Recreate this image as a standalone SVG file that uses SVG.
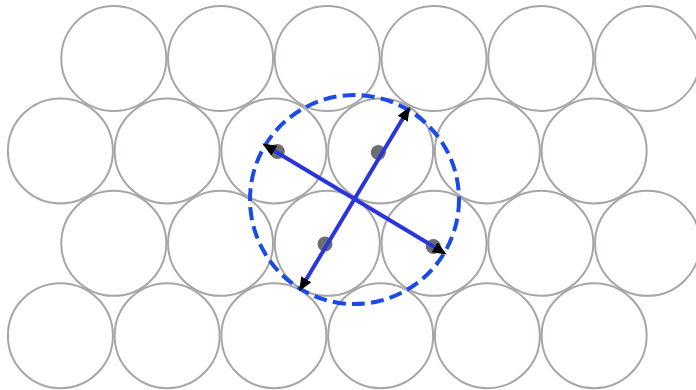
<svg xmlns="http://www.w3.org/2000/svg" width="696" height="390" viewBox="0 0 696 390">
<defs>
<style>
.c{fill:none;stroke:#a9a5a6;stroke-width:2}
.d{fill:#6e6e6e}
.a{stroke:#2b35dc;stroke-width:4;fill:none;marker-start:url(#ah);marker-end:url(#ah)}
.dash{fill:none;stroke:#1a4be6;stroke-width:4;stroke-dasharray:13 6.2}
</style>
<marker id="ah" markerUnits="userSpaceOnUse" markerWidth="14" markerHeight="12" refX="6" refY="5" orient="auto-start-reverse" viewBox="0 0 12 10">
<path d="M0,0 L12,5 L0,10 z" fill="#000"/>
</marker>
</defs>
<rect width="696" height="390" fill="#fff"/>
<g id="packing">
<g id="row1">
<circle class="c" cx="113.8" cy="58.5" r="52.5"/>
<circle class="c" cx="220.55" cy="58.5" r="52.5"/>
<circle class="c" cx="327.3" cy="58.5" r="52.5"/>
<circle class="c" cx="434.05" cy="58.5" r="52.5"/>
<circle class="c" cx="540.8" cy="58.5" r="52.5"/>
<circle class="c" cx="647.55" cy="58.5" r="52.5"/>
</g>
<g id="row2">
<circle class="c" cx="60.4" cy="150.9" r="52.5"/>
<circle class="c" cx="167.15" cy="150.9" r="52.5"/>
<circle class="c" cx="273.9" cy="150.9" r="52.5"/>
<circle class="c" cx="380.65" cy="150.9" r="52.5"/>
<circle class="c" cx="487.4" cy="150.9" r="52.5"/>
<circle class="c" cx="594.15" cy="150.9" r="52.5"/>
</g>
<g id="row3">
<circle class="c" cx="113.8" cy="243.3" r="52.5"/>
<circle class="c" cx="220.55" cy="243.3" r="52.5"/>
<circle class="c" cx="327.3" cy="243.3" r="52.5"/>
<circle class="c" cx="434.05" cy="243.3" r="52.5"/>
<circle class="c" cx="540.8" cy="243.3" r="52.5"/>
<circle class="c" cx="647.55" cy="243.3" r="52.5"/>
</g>
<g id="row4">
<circle class="c" cx="60.4" cy="335.7" r="52.5"/>
<circle class="c" cx="167.15" cy="335.7" r="52.5"/>
<circle class="c" cx="273.9" cy="335.7" r="52.5"/>
<circle class="c" cx="380.65" cy="335.7" r="52.5"/>
<circle class="c" cx="487.4" cy="335.7" r="52.5"/>
<circle class="c" cx="594.15" cy="335.7" r="52.5"/>
</g>
</g>
<g id="boundary">
<circle class="dash" cx="354.5" cy="199.5" r="104.5"/>
</g>
<g id="dots">
<circle class="d" cx="277.3" cy="151.5" r="7.5"/>
<circle class="d" cx="378.3" cy="152.5" r="7.5"/>
<circle class="d" cx="325" cy="244" r="7.5"/>
<circle class="d" cx="433.3" cy="246.5" r="7.5"/>
</g>
<g id="connectors">
<line class="a" x1="268.3" y1="147.2" x2="440.7" y2="250.8"/>
<line class="a" x1="302.7" y1="285.2" x2="406.3" y2="112.8"/>
</g>
</svg>
